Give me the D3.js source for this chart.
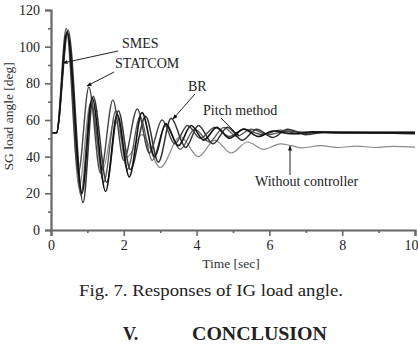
<!DOCTYPE html>
<html lang="en">
<head>
<meta charset="UTF-8">
<title>Responses of IG load angle</title>
<script src="https://d3js.org/d3.v7.min.js"></script>
<style>
    body { margin: 0; padding: 0; background: #fff; }
    svg text { font-family: 'Liberation Serif', 'DejaVu Serif', serif; fill: #222; }
    .axis-title { font-size: 13.5px; fill: #333; }
    .note { font-size: 14px; fill: #222; }
</style>
</head>
<body>
<div id="chart"></div>
<script>
    // time [sec], load angle [deg] (turning points)
    const smes = [[0,53],[0.15,53],[0.44,108],[0.85,20],[1.13,72],[1.5,21],[1.82,63],[2.15,29],[2.5,64],[2.85,40],[3.15,58],[3.5,46],[3.85,57],[4.2,49],[4.55,56],[4.9,50],[5.3,55],[5.7,51],[6.1,54],[6.6,52.5],[7.2,53.5],[8,53],[10,53]];
    const statcom = [[0,53],[0.15,53],[0.42,110],[0.75,31],[1.04,78],[1.36,31],[1.7,71],[2.0,38],[2.37,66],[2.7,42],[3.05,60],[3.4,47],[3.75,57],[4.1,50],[4.5,56],[4.9,51],[5.3,55],[5.8,52],[6.3,54.5],[6.8,52.5],[7.5,53.5],[10,53.5]];
    const br = [[0,53],[0.15,53],[0.47,109],[0.88,15],[1.16,73],[1.53,26],[1.85,65],[2.18,33],[2.6,62],[2.95,37],[3.3,61],[3.7,45],[4.05,57],[4.45,47],[4.85,56],[5.25,49],[5.65,55],[6.1,50.5],[6.5,55],[7,52],[7.6,53.5],[10,52.5]];
    const pitch = [[0,53],[0.15,53],[0.45,108],[0.82,19],[1.1,70],[1.45,26],[1.78,65],[2.1,33],[2.45,62],[2.78,38],[3.15,57],[3.55,44],[3.95,55],[4.35,48],[4.75,56],[5.1,51],[5.5,55],[5.95,52],[6.5,54],[7.2,53],[10,53]];
    const noCtrl = [[0,53],[0.15,53],[0.45,107],[0.77,23],[1.08,69],[1.42,33],[1.75,60],[2.1,40],[2.5,52],[3.0,34],[3.55,51],[4.05,40],[4.5,49],[4.95,42],[5.4,48],[5.85,44],[6.3,47],[6.6,46],[6.9,44.8],[7.4,46],[7.9,45],[8.4,45.8],[8.9,45],[9.4,45.6],[10,45.2]];

    const xTicks = [0, 2, 4, 6, 8, 10];
    const yTicks = [0, 20, 40, 60, 80, 100, 120];

    const W = 418, H = 344;
    const margin = { left: 51, right: 3, top: 10, bottom: 114 };

    const svg = d3.select("#chart").append("svg")
        .attr("width", W).attr("height", H);

    const x = d3.scaleLinear().domain([0, 10]).range([margin.left, W - margin.right]);
    const y = d3.scaleLinear().domain([0, 120]).range([H - margin.bottom, margin.top]);

    const defs = svg.append("defs");
    defs.append("marker").attr("id", "arrow")
        .attr("viewBox", "0 0 10 10").attr("refX", 9).attr("refY", 5)
        .attr("markerWidth", 6).attr("markerHeight", 5).attr("orient", "auto")
        .append("path").attr("d", "M0,1 L10,5 L0,9 Z").attr("fill", "#111");

    // curves
    const line = d3.line().x(d => x(d[0])).y(d => y(d[1])).curve(d3.curveMonotoneX);
    const series = [
        { data: noCtrl, color: "#8a8a8a", w: 1.2 },
        { data: pitch, color: "#555", w: 1.3 },
        { data: br, color: "#333", w: 1.5 },
        { data: statcom, color: "#444", w: 1.4 },
        { data: smes, color: "#111", w: 1.6 }
    ];
    svg.selectAll(".curve").data(series).enter().append("path")
        .attr("class", "curve")
        .attr("d", d => line(d.data))
        .attr("fill", "none")
        .attr("stroke", d => d.color)
        .attr("stroke-width", d => d.w);

    // axes
    const axisColor = "#666";
    const yAxis = svg.append("g").attr("transform", `translate(${x(0)},0)`)
        .call(d3.axisLeft(y).tickValues(yTicks).tickSize(6).tickPadding(5));
    yAxis.append("g").call(d3.axisLeft(y).tickValues(d3.range(10, 120, 20)).tickSize(3).tickFormat(""));
    const xAxis = svg.append("g").attr("transform", `translate(0,${y(0)})`)
        .call(d3.axisBottom(x).tickValues(xTicks).tickSize(6).tickPadding(4));
    xAxis.append("g").call(d3.axisBottom(x).tickValues(d3.range(1, 10, 2)).tickSize(3).tickFormat(""));

    svg.selectAll(".domain").attr("stroke", axisColor).attr("stroke-width", 2.2);
    svg.selectAll(".domain").filter(function() { return this.parentNode.parentNode.tagName === "g"; }).remove();
    svg.selectAll(".tick line").attr("stroke", axisColor).attr("stroke-width", 1.6);
    svg.selectAll(".tick text")
        .style("font-family", "'Liberation Serif', serif").style("font-size", "14px").attr("fill", "#333");
    // last x label sits at the window edge, pull it inside
    xAxis.selectAll(".tick text").filter(d => d === 10).attr("text-anchor", "end").attr("dx", 3);

    // axis titles
    svg.append("text").attr("class", "axis-title")
        .attr("transform", `translate(13,${y(62)}) rotate(-90)`)
        .attr("text-anchor", "middle").text("SG load angle [deg]");
    svg.append("text").attr("class", "axis-title")
        .attr("x", 231).attr("y", 268).attr("text-anchor", "middle").text("Time [sec]");

    // annotations
    const notes = [
        { label: "SMES", tx: 122, ty: 48, from: [118, 51], to: [63, 63] },
        { label: "STATCOM", tx: 115, ty: 68, from: [114, 72], to: [87, 86] },
        { label: "BR", tx: 188, ty: 91, from: [195, 94], to: [173, 119] },
        { label: "Pitch method", tx: 203, ty: 115, from: [221, 118], to: [239, 136] },
        { label: "Without controller", tx: 255, ty: 186, from: [290, 175], to: [290, 146] }
    ];
    notes.forEach(n => {
        svg.append("line")
            .attr("x1", n.from[0]).attr("y1", n.from[1])
            .attr("x2", n.to[0]).attr("y2", n.to[1])
            .attr("stroke", "#222").attr("stroke-width", 1)
            .attr("marker-end", "url(#arrow)");
        svg.append("text").attr("class", "note")
            .attr("x", n.tx).attr("y", n.ty).text(n.label);
    });

    // caption and next heading
    svg.append("text").attr("x", 79).attr("y", 296)
        .attr("textLength", 264).attr("lengthAdjust", "spacingAndGlyphs")
        .style("font-size", "17px").attr("fill", "#111")
        .text("Fig. 7. Responses of IG load angle.");
    svg.append("text").attr("x", 123).attr("y", 340)
        .style("font-size", "18px").style("font-weight", "bold").attr("fill", "#111")
        .text("V.");
    svg.append("text").attr("x", 192).attr("y", 340)
        .attr("textLength", 135).attr("lengthAdjust", "spacingAndGlyphs")
        .style("font-size", "18px").style("font-weight", "bold").attr("fill", "#111")
        .text("CONCLUSION");
</script>
</body>
</html>
